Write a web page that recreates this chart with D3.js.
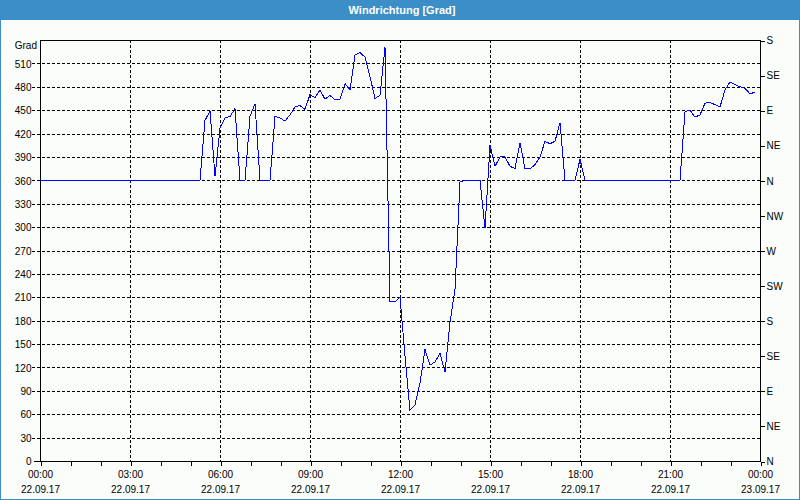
<!DOCTYPE html>
<html>
<head>
<meta charset="utf-8">
<script src="https://cdn.jsdelivr.net/npm/d3@7/dist/d3.min.js"></script>
<style>
  html, body { margin: 0; padding: 0; background: #fafdfa; }
  svg { display: block; }
  text { font-family: "Liberation Sans", Arial, sans-serif; }
</style>
</head>
<body>
<svg id="chart" width="800" height="500"></svg>
<script>
// ---- data ----
const chartTitle = "Windrichtung [Grad]";
const yUnit = "Grad";
const startTime = "2017-09-22T00:00:00";
const endTime = "2017-09-23T00:00:00";
const stepMinutes = 10;
// wind direction, degrees, every 10 minutes from 00:00
const windDir = [
  360,360,360,360,360,360,360,360,360,360, // 00:00-01:30
  360,360,360,360,360,360,360,360,360,360, // 01:40-03:10
  360,360,360,360,360,360,360,360,360,360, // 03:20-04:50
  360,360,360,437,449,365,427,440,442,452, // 05:00-06:30
  360,360,442,458,360,360,360,442,440,436, // 06:40-08:10
  444,454,456,451,470,466,476,464,469,463, // 08:20-09:50
  464,484,476,521,524,518,493,465,469,531, // 10:00-11:30
  204,204,210,135,65,72,100,143,123,127,   // 11:40-13:10
  138,114,178,220,358,360,360,360,360,299, // 13:20-14:50
  405,378,390,390,378,375,408,375,375,380, // 15:00-16:30
  390,410,407,410,434,360,360,360,387,360, // 16:40-18:10
  360,360,360,360,360,360,360,360,360,360, // 18:20-19:50
  360,360,360,360,360,360,360,360,360,448, // 20:00-21:30
  450,441,444,459,460,457,454,476,486,483, // 21:40-23:10
  480,478,471,473                          // 23:20-23:50
];
const yTicks = [0,30,60,90,120,150,180,210,240,270,300,330,360,390,420,450,480,510];
const compassTicks = [0,45,90,135,180,225,270,315,360,405,450,495,540];
const compassLabels = ["N","NE","E","SE","S","SW","W","NW","N","NE","E","SE","S"];
const majorHours = [0,3,6,9,12,15,18,21,24];

// ---- layout ----
const W = 800, H = 500;
const m = { left: 40, right: 760, top: 40, bottom: 461 };
const svg = d3.select("#chart");
const parse = d3.timeParse("%Y-%m-%dT%H:%M:%S");
const t0 = parse(startTime), t1 = parse(endTime);
const points = windDir.map((v, i) => ({ t: d3.timeMinute.offset(t0, i * stepMinutes), v }));

const x = d3.scaleTime().domain([t0, t1]).range([m.left, m.right]);
const y = d3.scaleLinear().domain([0, 540]).range([m.bottom, m.top]);

// background + border + title bar
svg.append("rect").attr("x", 0.5).attr("y", 0.5).attr("width", W - 1).attr("height", H - 1)
  .attr("fill", "#fafdfa").attr("stroke", "#3c8fc6");
svg.append("rect").attr("x", 0).attr("y", 0).attr("width", W).attr("height", 20).attr("fill", "#3c8fc6");
svg.append("text").attr("x", 402).attr("y", 14).attr("text-anchor", "middle")
  .attr("fill", "#ffffff").attr("font-size", "11px").attr("font-weight", "bold").text(chartTitle);

// grid
const grid = svg.append("g").attr("shape-rendering", "crispEdges");
grid.selectAll("line.h").data(yTicks.filter(d => d > 0)).join("line")
  .attr("x1", m.left - 8).attr("x2", m.right)
  .attr("y1", d => Math.round(y(d)) + 0.5).attr("y2", d => Math.round(y(d)) + 0.5)
  .attr("stroke", "#000").attr("stroke-dasharray", "3,2");
grid.selectAll("line.v").data(majorHours.slice(1, -1)).join("line")
  .attr("x1", d => Math.round(x(d3.timeHour.offset(t0, d))) + 0.5)
  .attr("x2", d => Math.round(x(d3.timeHour.offset(t0, d))) + 0.5)
  .attr("y1", m.top).attr("y2", m.bottom)
  .attr("stroke", "#000").attr("stroke-dasharray", "3,2");

// frame
svg.append("rect").attr("x", m.left + 0.5).attr("y", m.top + 0.5)
  .attr("width", m.right - m.left).attr("height", m.bottom - m.top)
  .attr("fill", "none").attr("stroke", "#000").attr("shape-rendering", "crispEdges");

// left axis
const yAxis = d3.axisLeft(y).tickValues(yTicks).tickSize(0).tickPadding(9);
const gy = svg.append("g").attr("transform", `translate(${m.left + 0.5},0.5)`).call(yAxis);
gy.select(".domain").remove();
gy.selectAll("text").attr("font-size", "10px").attr("fill", "#000").attr("font-family", "Liberation Sans, Arial, sans-serif");
svg.append("line").attr("x1", m.left - 6).attr("x2", m.left).attr("y1", m.bottom + 0.5).attr("y2", m.bottom + 0.5)
  .attr("stroke", "#000").attr("shape-rendering", "crispEdges");
svg.append("text").attr("x", 37).attr("y", 49).attr("text-anchor", "end")
  .attr("font-size", "10px").attr("fill", "#000").text(yUnit);

// right axis (compass)
const yc = d3.scaleLinear().domain([0, 540]).range([m.bottom, m.top]);
const rAxis = d3.axisRight(yc).tickValues(compassTicks)
  .tickFormat((d, i) => compassLabels[i]).tickSize(4).tickPadding(2);
const gr = svg.append("g").attr("transform", `translate(${m.right + 0.5},0.5)`).call(rAxis);
gr.select(".domain").remove();
gr.selectAll("line").attr("shape-rendering", "crispEdges");
gr.selectAll("text").attr("font-size", "10px").attr("fill", "#000").attr("font-family", "Liberation Sans, Arial, sans-serif");

// bottom axis
const xAxisMinor = d3.axisBottom(x).ticks(d3.timeHour.every(1)).tickFormat("").tickSize(4);
const gxm = svg.append("g").attr("transform", `translate(0.5,${m.bottom + 0.5})`).call(xAxisMinor);
gxm.select(".domain").remove();
gxm.selectAll("line").attr("shape-rendering", "crispEdges");

const majorDates = majorHours.map(h => d3.timeHour.offset(t0, h));
const gx = svg.append("g").attr("transform", `translate(0,${m.bottom})`);
const fTime = d3.timeFormat("%H:%M"), fDate = d3.timeFormat("%d.%m.%y");
gx.selectAll("text.t").data(majorDates).join("text")
  .attr("x", d => x(d) + 0.5).attr("y", 17).attr("text-anchor", "middle")
  .attr("font-size", "10px").attr("fill", "#000").text(d => fTime(d));
gx.selectAll("text.d").data(majorDates).join("text")
  .attr("x", d => x(d) + 0.5).attr("y", 32).attr("text-anchor", "middle")
  .attr("font-size", "10px").attr("fill", "#000").text(d => fDate(d));

// line
const line = d3.line().x(d => x(d.t)).y(d => y(d.v));
svg.append("path").datum(points).attr("d", line)
  .attr("fill", "none").attr("stroke", "#0000ff").attr("stroke-width", 1)
  .attr("shape-rendering", "crispEdges");
</script>
</body>
</html>
